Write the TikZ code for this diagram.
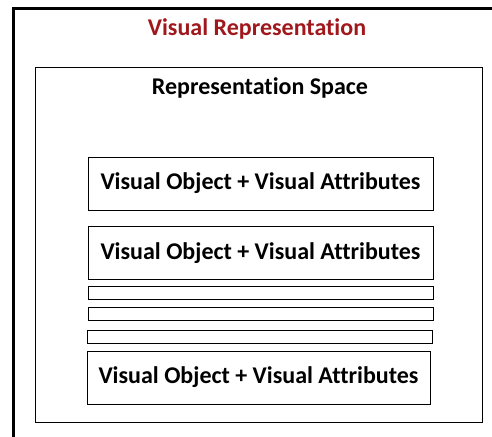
\documentclass[tikz,border=0pt]{standalone}
\usepackage{fontspec}
\setmainfont[Ligatures=NoCommon]{Carlito}
\usepackage{xcolor}
\definecolor{titlered}{RGB}{160,24,28}
\tikzset{
	objbox/.style={draw, semithick, minimum width=345pt, minimum height=53pt, inner sep=0pt, font=\bfseries\fontsize{24}{28}\selectfont},
	bar/.style={draw, semithick, minimum width=345pt, minimum height=13pt, inner sep=0pt},
	caption/.style={font=\bfseries\fontsize{24}{28}\selectfont}
}

\begin{document}
\begin{tikzpicture}[x=1pt,y=-1pt]
\useasboundingbox (0,0) rectangle (492,436);
% outer frame, cut off at right and bottom
\draw[line width=3pt] (13,440) -- (13,9) -- (496,9);
\node[caption, text=titlered] (title) at (257,29) {Visual Representation};

% representation space
\draw[thick] (35,67) rectangle (482,422);
\node[caption] (space) at (260,88) {Representation Space};

\node[objbox] (obj1) at (260.5,183.5) {Visual Object + Visual Attributes};
\node[objbox] (obj2) at (260.5,253) {Visual Object + Visual Attributes};
\node[bar] (bar1) at (260.5,292.5) {};
\node[bar] (bar2) at (260.5,313.5) {};
\node[bar] (bar3) at (260,336.5) {};
\node[objbox, minimum width=343pt] (obj3) at (258.5,377.5) {Visual Object + Visual Attributes};
\end{tikzpicture}
\end{document}
